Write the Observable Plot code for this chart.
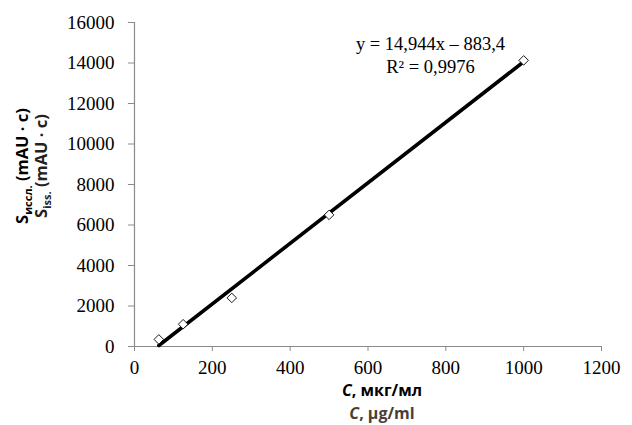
<!DOCTYPE html>
<html><head><meta charset="utf-8">
<script src="https://cdn.jsdelivr.net/npm/d3@7"></script>
<script src="https://cdn.jsdelivr.net/npm/@observablehq/plot@0.6"></script>
<style>
body{margin:0;background:#fff}
</style>
</head><body><div id="chart"></div>
<script>
const concentrations = [62.5, 125, 250, 500, 1000];
const areas = [350, 1100, 2400, 6500, 14130];
const slope = 14.944;
const intercept = -883.4;
const equationLabels = ["y = 14,944x – 883,4", "R² = 0,9976"];
const xTicks = [0, 200, 400, 600, 800, 1000, 1200];
const yTicks = [0, 2000, 4000, 6000, 8000, 10000, 12000, 14000, 16000];

const points = concentrations.map((c, i) => ({c, s: areas[i]}));
const xr = d3.extent(concentrations);
const fit = xr.map(c => ({c, s: slope * c + intercept}));

const serif = "'Liberation Serif', 'Times New Roman', serif";
const axisColor = "#8a8a8a";
const plot = Plot.plot({
  width: 632, height: 425,
  marginLeft: 134, marginRight: 31, marginTop: 22, marginBottom: 79,
  style: {fontSize: "19px", background: "#fff", color: "#000"},
  x: {domain: [0, 1200], ticks: xTicks},
  y: {domain: [0, 16000], ticks: yTicks},
  marks: [
    Plot.ruleY([0], {stroke: axisColor, strokeWidth: 1.2}),
    Plot.ruleX([0], {stroke: axisColor, strokeWidth: 1.2}),
    Plot.axisX({ticks: xTicks, tickSize: 5, tickPadding: 9, stroke: axisColor, label: null, tickFormat: d => String(d), fill: "#000", fontSize: 19}),
    Plot.axisY({ticks: yTicks, tickSize: 6, tickPadding: 14, stroke: axisColor, label: null, tickFormat: d => String(d), fill: "#000", fontSize: 19}),
    Plot.line(fit, {x: "c", y: "s", stroke: "#000", strokeWidth: 3.6}),
    Plot.dot(points, {x: "c", y: "s", symbol: "diamond2", r: 4.3, stroke: "#000", strokeWidth: 0.9, fill: "#fff"}),
    Plot.text([equationLabels[0]], {frameAnchor: "top-left", dx: 296, dy: 27, text: d => d, textAnchor: "middle", fontSize: 18.5, lineAnchor: "bottom"}),
    Plot.text([equationLabels[1]], {frameAnchor: "top-left", dx: 296, dy: 50, text: d => d, textAnchor: "middle", fontSize: 18.5, lineAnchor: "bottom"})
  ]
});
document.getElementById("chart").append(plot);

const svg = d3.select(plot);
svg.selectAll("text").style("font-family", serif);

const sans = "'Open Sans', sans-serif";
function yTitle(x, sub, color) {
  const t = svg.append("text")
    .attr("transform", `translate(${x},166) rotate(-90)`)
    .attr("text-anchor", "middle")
    .style("font-family", sans).style("font-weight", "bold")
    .attr("font-size", 16.5).attr("fill", color);
  t.append("tspan").text("S");
  t.append("tspan").attr("dy", 4).attr("font-size", 11).text(sub);
  t.append("tspan").attr("dy", -4).text(" (mAU · c)");
}
yTitle(28, "иссл.", "#000");
yTitle(47, "iss.", "#222");

function xTitle(y, rest, color) {
  const t = svg.append("text")
    .attr("x", 382).attr("y", y)
    .attr("text-anchor", "middle")
    .style("font-family", sans).style("font-weight", "bold")
    .attr("font-size", 16).attr("fill", color);
  t.append("tspan").attr("font-style", "italic").text("C");
  t.append("tspan").text(rest);
}
xTitle(396, ", мкг/мл", "#000");
xTitle(419, ", µg/ml", "#4a3f35");
</script></body></html>
